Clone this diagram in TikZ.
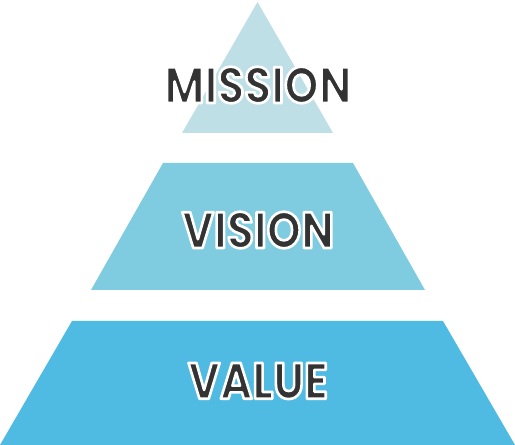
\documentclass[tikz,border=0pt]{standalone}
\usepackage{fontspec}
\setmainfont{Poppins}[FakeStretch=0.86]
\usepackage{xcolor}
\usepackage{tikz}
\definecolor{missioncol}{HTML}{BEDFE6}
\definecolor{visioncol}{HTML}{7FCBE0}
\definecolor{valuecol}{HTML}{4FBBE2}
\definecolor{labelcol}{HTML}{333333}
% white rim round the label: fill and stroke the glyphs
\newcommand{\rimtext}[1]{{\special{pdf:literal 1 1 1 RG 1.5 w 1 j 2 Tr}#1\special{pdf:literal 0 Tr}}}
\tikzset{
  every tier node/.style={
    font=\fontsize{29}{30}\selectfont\bfseries,text=labelcol,inner sep=0pt,
  },
}

\begin{document}
\begin{tikzpicture}[x=0.02cm,y=-0.02cm]
		\tikzstyle{tier}=[every tier node]
		\useasboundingbox (0,0) rectangle (515,445);

		\fill[missioncol] (257.5,2) -- (333,133) -- (182,133) -- cycle;
		\fill[visioncol] (163,163) -- (353,163) -- (425,290) -- (91,290) -- cycle;
		\fill[valuecol] (72,321) -- (443,321) -- (515,445) -- (0,445) -- cycle;

		\node[tier] (mission) at (258,85) {\rimtext{MISSION}};
		\node[tier] (vision) at (258,230) {\rimtext{VISION}};
		\node[tier] (value) at (258,381) {\rimtext{VALUE}};

	\end{tikzpicture}
\end{document}
